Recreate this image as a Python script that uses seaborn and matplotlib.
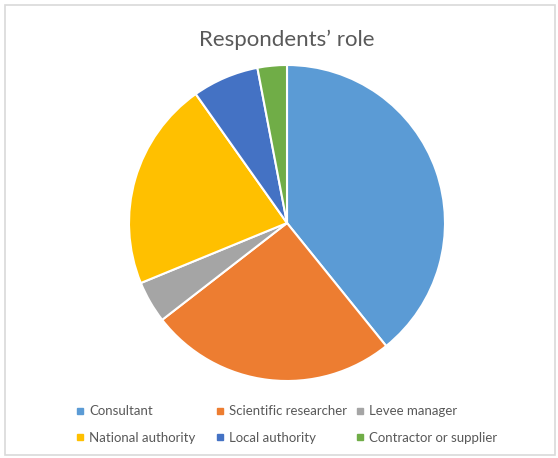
import matplotlib
matplotlib.use("Agg")
import matplotlib.pyplot as plt
from matplotlib.lines import Line2D
from matplotlib.patches import Rectangle
import seaborn as sns

sns.set_theme(style="white")
plt.rcParams["font.family"] = ["Lato", "DejaVu Sans"]

roles = ["Consultant", "Scientific researcher", "Levee manager",
         "National authority", "Local authority", "Contractor or supplier"]
shares = [39.2, 25.3, 4.3, 21.4, 6.8, 3.0]
colors = ["#5B9BD5", "#ED7D31", "#A5A5A5", "#FFC000", "#4472C4", "#70AD47"]

W, H = 558, 458
fig = plt.figure(figsize=(W / 100, H / 100), dpi=100)
fig.patch.set_facecolor("white")

# chart frame
fig.add_artist(Rectangle((5 / W, 3 / H), 550 / W, 450 / H, transform=fig.transFigure,
                         fill=False, edgecolor="#D9D9D9", linewidth=1.2))

cx, cy, r = 287, 223, 158
ax = fig.add_axes([(cx - r) / W, (H - cy - r) / H, 2 * r / W, 2 * r / H])
ax.pie(shares, colors=colors, startangle=90, counterclock=False, radius=1,
       wedgeprops=dict(edgecolor="white", linewidth=1.5))
ax.set_xlim(-1.0, 1.0)
ax.set_ylim(-1.0, 1.0)
ax.set_aspect("equal")
ax.axis("off")

fig.text(cx / W, 1 - 40 / H, "Respondents\u2019 role", ha="center", va="center",
         fontsize=16, color="#595959")

# legend: three columns of two rows, filled row by row
col_x = [76, 216, 356]
for j, x in enumerate(col_x):
    idx = [j, j + 3]
    handles = [Line2D([], [], marker="s", linestyle="", markersize=4.5,
                      markerfacecolor=colors[i], markeredgecolor=colors[i]) for i in idx]
    leg = fig.legend(handles, [roles[i] for i in idx], loc="center left",
                     bbox_to_anchor=(x / W, 1 - 424.5 / H), frameon=False,
                     fontsize=9.5, handlelength=0.6, handletextpad=0.4,
                     labelspacing=1.1, borderpad=0, borderaxespad=0)
    for t in leg.get_texts():
        t.set_color("#595959")

fig.savefig("out.png", dpi=100, facecolor="white")
